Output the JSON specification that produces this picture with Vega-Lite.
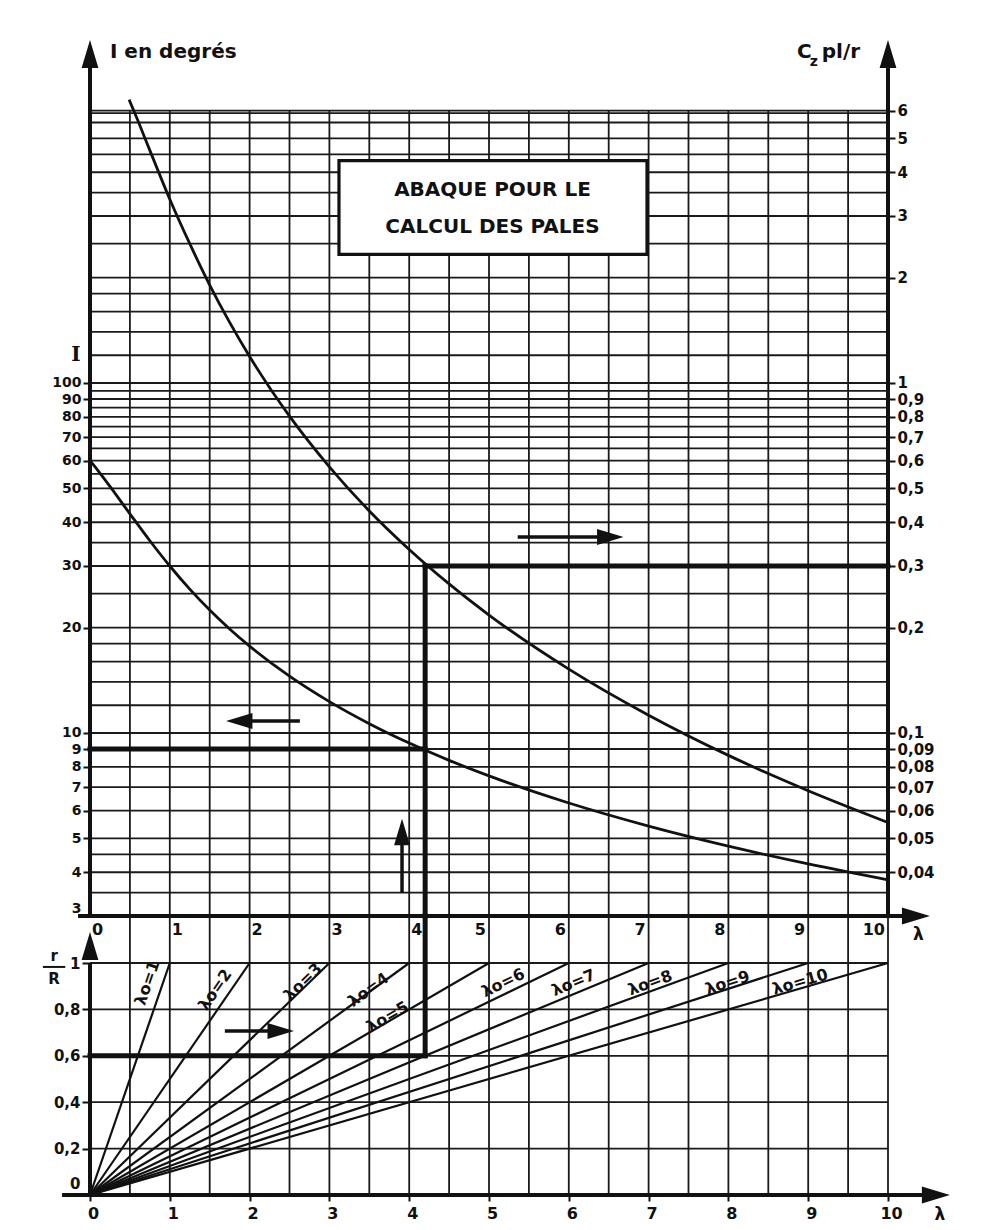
{
"$schema": "https://vega.github.io/schema/vega-lite/v6.json",
"width": 798, "height": 1155,
"autosize": {"type": "none"},
"padding": {"left": 90, "top": 40, "right": 100, "bottom": 35},
"background": "#ffffff",
"config": {
  "view": {"stroke": null},
  "axis": {"labelFont": "DejaVu Sans", "labelFontWeight": "bold", "labelColor": "#111", "tickColor": "#111", "tickWidth": 2, "domain": false, "grid": false, "labelOverlap": false, "labelFlush": false},
  "text": {"font": "DejaVu Sans", "fontWeight": "bold", "color": "#111"},
  "rule": {"color": "#1a1a1a"},
  "line": {"color": "#111"},
  "point": {"color": "#111"}
},
"datasets": {
  "topH": [{"y":3.5},{"y":4},{"y":4.5},{"y":5},{"y":6},{"y":7},{"y":8},{"y":9},{"y":10},{"y":12},{"y":14},{"y":16},{"y":18},{"y":20},{"y":25},{"y":30},{"y":35},{"y":40},{"y":45},{"y":50},{"y":55},{"y":60},{"y":65},{"y":70},{"y":75},{"y":80},{"y":85},{"y":90},{"y":95},{"y":100},{"y":120},{"y":140},{"y":160},{"y":180},{"y":200},{"y":250},{"y":300},{"y":350},{"y":400},{"y":450},{"y":500},{"y":555},{"y":590},{"y":600}],
  "vgT": [{"x":0.5},{"x":1},{"x":1.5},{"x":2},{"x":2.5},{"x":3},{"x":3.5},{"x":4},{"x":4.5},{"x":5},{"x":5.5},{"x":6},{"x":6.5},{"x":7},{"x":7.5},{"x":8},{"x":8.5},{"x":9},{"x":9.5}],
  "vgB": [{"x":0.5},{"x":1},{"x":1.5},{"x":2},{"x":2.5},{"x":3},{"x":3.5},{"x":4},{"x":4.5},{"x":5},{"x":5.5},{"x":6},{"x":6.5},{"x":7},{"x":7.5},{"x":8},{"x":8.5},{"x":9},{"x":9.5},{"x":10}],
  "hgB": [{"y":0.2},{"y":0.4},{"y":0.6},{"y":0.8},{"y":1}],
  "lowCurve": [{"x":0,"y":60},{"x":0.1,"y":56.19},{"x":0.25,"y":50.64},{"x":0.5,"y":42.29},{"x":0.75,"y":35.42},{"x":1,"y":30},{"x":1.25,"y":25.77},{"x":1.5,"y":22.46},{"x":1.75,"y":19.83},{"x":2,"y":17.71},{"x":2.5,"y":14.53},{"x":3,"y":12.29},{"x":3.5,"y":10.63},{"x":4,"y":9.357},{"x":4.5,"y":8.353},{"x":5,"y":7.54},{"x":6,"y":6.308},{"x":7,"y":5.42},{"x":8,"y":4.75},{"x":9,"y":4.227},{"x":10,"y":3.807}],
  "upCurve": [{"x":0.49,"y":6.45},{"x":0.6,"y":5.62},{"x":0.75,"y":4.62},{"x":1,"y":3.35},{"x":1.25,"y":2.5},{"x":1.5,"y":1.905},{"x":1.75,"y":1.49},{"x":2,"y":1.191},{"x":2.5,"y":0.804},{"x":3,"y":0.576},{"x":3.5,"y":0.431},{"x":4,"y":0.3345},{"x":4.5,"y":0.2666},{"x":5,"y":0.2173},{"x":6,"y":0.1522},{"x":7,"y":0.1124},{"x":8,"y":0.0863},{"x":9,"y":0.0684},{"x":10,"y":0.0555}],
  "boxRect": [{"x":3.12,"x2":6.98,"y":431.6,"y2":233.2}],
  "boxText": [{"x":5.044,"y":356,"t":"ABAQUE  POUR  LE"},{"x":5.044,"y":279,"t":"CALCUL  DES  PALES"}],
  "boldTop": [{"x":0,"x2":4.2,"y":9,"y2":9},{"x":4.2,"x2":4.2,"y":3,"y2":30},{"x":4.2,"x2":10,"y":30,"y2":30}],
  "axesTop": [{"x":-0.15,"x2":10.3,"y":3,"y2":3},{"x":0,"x2":0,"y":3,"y2":850},{"x":10,"x2":10,"y":3,"y2":850}],
  "arrowsTop": [{"x":1.85,"x2":2.63,"y":10.82,"y2":10.82},{"x":3.91,"x2":3.91,"y":3.49,"y2":5.2},{"x":5.36,"x2":6.5,"y":36.3,"y2":36.3}],
  "headsTopBig": [{"x":0,"y":871,"dir":"up"},{"x":10,"y":871,"dir":"up"},{"x":10.35,"y":3,"dir":"right"}],
  "headsTopSmall": [{"x":1.87,"y":10.82,"dir":"left"},{"x":3.91,"y":5.21,"dir":"up"},{"x":6.52,"y":36.3,"dir":"right"}],
  "xlab": [{"x":0,"t":"0"},{"x":1,"t":"1"},{"x":2,"t":"2"},{"x":3,"t":"3"},{"x":4,"t":"4"},{"x":5,"t":"5"},{"x":6,"t":"6"},{"x":7,"t":"7"},{"x":8,"t":"8"},{"x":9,"t":"9"},{"x":10,"t":"10"}],
  "titlesBig": [{"x":0.25,"y":882,"t":"I en degrés"},{"x":8.86,"y":882,"t":"C"},{"x":9.17,"y":882,"t":"pl/r"}],
  "titlesSmall": [{"x":9.02,"y":826,"t":"z"}],
  "labI": [{"x":-0.175,"y":120,"t":"I"}],
  "lamTop": [{"x":10.38,"y":2.65,"t":"λ"}],
  "loLines": [{"k":1,"x":0,"y":0},{"k":1,"x":1,"y":1},{"k":2,"x":0,"y":0},{"k":2,"x":2,"y":1},{"k":3,"x":0,"y":0},{"k":3,"x":3,"y":1},{"k":4,"x":0,"y":0},{"k":4,"x":4,"y":1},{"k":5,"x":0,"y":0},{"k":5,"x":5,"y":1},{"k":6,"x":0,"y":0},{"k":6,"x":6,"y":1},{"k":7,"x":0,"y":0},{"k":7,"x":7,"y":1},{"k":8,"x":0,"y":0},{"k":8,"x":8,"y":1},{"k":9,"x":0,"y":0},{"k":9,"x":9,"y":1},{"k":10,"x":0,"y":0},{"k":10,"x":10,"y":1}],
  "loLabels": [{"lo":1,"x":0.72,"y":0.914,"t":"λo=1"},{"lo":2,"x":1.57,"y":0.884,"t":"λo=2"},{"lo":3,"x":2.67,"y":0.918,"t":"λo=3"},{"lo":4,"x":3.49,"y":0.884,"t":"λo=4"},{"lo":5,"x":3.73,"y":0.767,"t":"λo=5"},{"lo":6,"x":5.18,"y":0.914,"t":"λo=6"},{"lo":7,"x":6.06,"y":0.914,"t":"λo=7"},{"lo":8,"x":7.02,"y":0.914,"t":"λo=8"},{"lo":9,"x":7.99,"y":0.914,"t":"λo=9"},{"lo":10,"x":8.9,"y":0.918,"t":"λo=10"}],
  "boldBot": [{"x":0,"x2":4.2,"y":0.6,"y2":0.6},{"x":4.2,"x2":4.2,"y":0.6,"y2":1.2026}],
  "axesBot": [{"x":-0.35,"x2":10.5,"y":0,"y2":0},{"x":0,"x2":0,"y":0,"y2":1.0}],
  "arrowsBot": [{"x":1.69,"x2":2.4,"y":0.707,"y2":0.707}],
  "headsBotBig": [{"x":10.6,"y":0,"dir":"right"},{"x":0,"y":1.073,"dir":"up"}],
  "headsBotSmall": [{"x":2.39,"y":0.707,"dir":"right"}],
  "fracBar": [{"x":-0.59,"x2":-0.31,"y":0.983,"y2":0.983}],
  "fracText": [{"x":-0.45,"y":1.03,"t":"r"},{"x":-0.45,"y":0.93,"t":"R"}],
  "lamBot": [{"x":10.65,"y":-0.086,"t":"λ"}]
},
"layer": [
  {
    "layer": [
      {"data": {"name": "topH"}, "mark": {"type": "rule", "strokeWidth": 1.8},
       "encoding": {"x": {"datum": 0, "type": "quantitative", "title": null}, "x2": {"datum": 10},
                    "y": {"field": "y", "type": "quantitative", "title": null}}},
      {"data": {"name": "vgT"}, "mark": {"type": "rule", "strokeWidth": 1.8},
       "encoding": {"x": {"field": "x", "type": "quantitative", "title": null},
                    "y": {"datum": 3, "type": "quantitative", "title": null}, "y2": {"datum": 600}}},
      {"data": {"name": "xlab"}, "transform": [{"filter": "datum.x <= 4"}], "mark": {"type": "text", "fontSize": 16, "align": "left", "baseline": "middle", "dx": 2, "dy": 14},
       "encoding": {"x": {"field": "x", "type": "quantitative", "title": null},
                    "y": {"datum": 3, "type": "quantitative", "title": null}, "text": {"field": "t"}}},
      {"data": {"name": "xlab"}, "transform": [{"filter": "datum.x >= 5"}], "mark": {"type": "text", "fontSize": 16, "align": "right", "baseline": "middle", "dx": -3, "dy": 14},
       "encoding": {"x": {"field": "x", "type": "quantitative", "title": null},
                    "y": {"datum": 3, "type": "quantitative", "title": null}, "text": {"field": "t"}}},
      {
        "encoding": {
          "x": {"field": "x", "type": "quantitative", "title": null,
                "scale": {"domain": [0, 10], "nice": false, "zero": false},
                "axis": {"orient": "bottom", "values": [0,1,2,3,4,5,6,7,8,9,10], "format": "d", "labelFontSize": 16, "tickSize": 6, "labelPadding": 4, "labelOffset": 3}},
          "y": {"field": "y", "type": "quantitative", "title": null,
                "scale": {"type": "log", "domain": [0.4786, 954.9], "nice": false},
                "axis": {"orient": "left", "values": [3,4,5,6,7,8,9,10,20,30,40,50,60,70,80,90,100], "format": "~g", "labelFontSize": 14, "tickSize": 7, "labelPadding": 2,
                         "labelOffset": {"condition": {"test": "datum.value == 3", "value": -7}, "value": 0}}}
        },
        "layer": [
          {"data": {"name": "boxRect"}, "mark": {"type": "rect", "fill": "#ffffff", "stroke": "#111", "strokeWidth": 3.2}, "encoding": {"x2": {"field": "x2"}, "y2": {"field": "y2"}}},
          {"data": {"name": "boxText"}, "mark": {"type": "text", "fontSize": 20, "align": "center", "baseline": "middle"}, "encoding": {"text": {"field": "t"}}},
          {"data": {"name": "lowCurve"}, "mark": {"type": "line", "strokeWidth": 2.8, "interpolate": "monotone"}},
          {"data": {"name": "boldTop"}, "mark": {"type": "rule", "strokeWidth": 5, "strokeCap": "square", "color": "#111"}, "encoding": {"x2": {"field": "x2"}, "y2": {"field": "y2"}}},
          {"data": {"name": "axesTop"}, "mark": {"type": "rule", "strokeWidth": 4, "color": "#111"}, "encoding": {"x2": {"field": "x2"}, "y2": {"field": "y2"}}},
          {"data": {"name": "arrowsTop"}, "mark": {"type": "rule", "strokeWidth": 3.5, "color": "#111"}, "encoding": {"x2": {"field": "x2"}, "y2": {"field": "y2"}}},
          {"data": {"name": "headsTopBig"}, "mark": {"type": "point", "filled": true, "size": 784, "opacity": 1, "strokeWidth": 0},
           "encoding": {"shape": {"field": "dir", "type": "nominal", "legend": null, "scale": {"domain": ["up", "right", "left"], "range": ["M0,-1L0.6,1L-0.6,1Z", "M1,0L-1,-0.6L-1,0.6Z", "M-1,0L1,-0.6L1,0.6Z"]}}}},
          {"data": {"name": "headsTopSmall"}, "mark": {"type": "point", "filled": true, "size": 700, "opacity": 1, "strokeWidth": 0},
           "encoding": {"shape": {"field": "dir", "type": "nominal", "legend": null}}},
          {"data": {"name": "titlesBig"}, "mark": {"type": "text", "fontSize": 20, "align": "left", "baseline": "middle"}, "encoding": {"text": {"field": "t"}}},
          {"data": {"name": "titlesSmall"}, "mark": {"type": "text", "fontSize": 14, "align": "left", "baseline": "middle"}, "encoding": {"text": {"field": "t"}}},
          {"data": {"name": "labI"}, "mark": {"type": "text", "fontSize": 20, "font": "DejaVu Serif", "align": "center", "baseline": "middle"}, "encoding": {"text": {"field": "t"}}},
          {"data": {"name": "lamTop"}, "mark": {"type": "text", "fontSize": 17, "align": "center", "baseline": "middle"}, "encoding": {"text": {"field": "t"}}}
        ]
      }
    ]
  },
  {
    "encoding": {
      "x": {"field": "x", "type": "quantitative", "title": null},
      "y": {"field": "y", "type": "quantitative", "title": null,
            "scale": {"type": "log", "domain": [0.004786, 9.549], "nice": false},
            "axis": {"orient": "right", "values": [0.04,0.05,0.06,0.07,0.08,0.09,0.1,0.2,0.3,0.4,0.5,0.6,0.7,0.8,0.9,1,2,3,4,5,6], "format": "~g", "labelExpr": "replace(datum.label, '.', ',')", "labelFontSize": 15, "tickSize": 7, "labelPadding": 2}}
    },
    "layer": [
      {"data": {"name": "upCurve"}, "mark": {"type": "line", "strokeWidth": 2.8, "interpolate": "monotone"}}
    ]
  },
  {
    "layer": [
      {"data": {"name": "vgB"}, "mark": {"type": "rule", "strokeWidth": 1.8},
       "encoding": {"x": {"field": "x", "type": "quantitative", "title": null},
                    "y": {"datum": 0, "type": "quantitative", "title": null}, "y2": {"datum": 1.2026}}},
      {"data": {"name": "hgB"}, "mark": {"type": "rule", "strokeWidth": 1.8},
       "encoding": {"x": {"datum": 0, "type": "quantitative", "title": null}, "x2": {"datum": 10},
                    "y": {"field": "y", "type": "quantitative", "title": null}}},
      {
        "encoding": {
          "x": {"field": "x", "type": "quantitative", "title": null},
          "y": {"field": "y", "type": "quantitative", "title": null,
                "scale": {"domain": [0, 4.97845], "nice": false, "zero": false},
                "axis": {"orient": "left", "values": [0,0.2,0.4,0.6,0.8,1], "format": "~g", "labelExpr": "replace(datum.label, '.', ',')", "labelFontSize": 15, "tickSize": 8, "labelPadding": 2,
                         "labelOffset": {"condition": {"test": "datum.value == 0", "value": -12}, "value": 0}}}
        },
        "layer": [
          {"data": {"name": "loLines"}, "mark": {"type": "line", "strokeWidth": 2.2}, "encoding": {"detail": {"field": "k", "type": "nominal"}}},
          {"data": {"name": "loLabels"}, "mark": {"type": "text", "fontSize": 16, "align": "center", "baseline": "middle"},
           "encoding": {"text": {"field": "t"}, "angle": {"field": "lo", "type": "quantitative", "legend": null, "scale": {"domain": [1,2,3,4,5,6,7,8,9,10], "range": [-71,-55.5,-44.1,-36,-30.2,-25.8,-22.6,-20,-17.9,-16.2]}}}},
          {"data": {"name": "boldBot"}, "mark": {"type": "rule", "strokeWidth": 5, "strokeCap": "square", "color": "#111"}, "encoding": {"x2": {"field": "x2"}, "y2": {"field": "y2"}}},
          {"data": {"name": "axesBot"}, "mark": {"type": "rule", "strokeWidth": 4, "color": "#111"}, "encoding": {"x2": {"field": "x2"}, "y2": {"field": "y2"}}},
          {"data": {"name": "arrowsBot"}, "mark": {"type": "rule", "strokeWidth": 3.5, "color": "#111"}, "encoding": {"x2": {"field": "x2"}, "y2": {"field": "y2"}}},
          {"data": {"name": "headsBotBig"}, "mark": {"type": "point", "filled": true, "size": 784, "opacity": 1, "strokeWidth": 0},
           "encoding": {"shape": {"field": "dir", "type": "nominal", "legend": null}}},
          {"data": {"name": "headsBotSmall"}, "mark": {"type": "point", "filled": true, "size": 700, "opacity": 1, "strokeWidth": 0},
           "encoding": {"shape": {"field": "dir", "type": "nominal", "legend": null}}},
          {"data": {"name": "fracBar"}, "mark": {"type": "rule", "strokeWidth": 2, "color": "#111"}, "encoding": {"x2": {"field": "x2"}, "y2": {"field": "y2"}}},
          {"data": {"name": "fracText"}, "mark": {"type": "text", "fontSize": 15, "align": "center", "baseline": "middle"}, "encoding": {"text": {"field": "t"}}},
          {"data": {"name": "lamBot"}, "mark": {"type": "text", "fontSize": 17, "align": "center", "baseline": "middle"}, "encoding": {"text": {"field": "t"}}}
        ]
      }
    ]
  }
],
"resolve": {"scale": {"y": "independent"}, "axis": {"y": "independent"}}
}
